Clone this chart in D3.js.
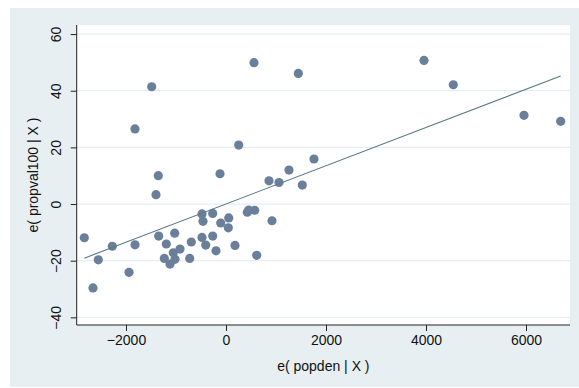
<!DOCTYPE html>
<html>
<head>
<meta charset="utf-8">
<script src="https://cdn.jsdelivr.net/npm/d3@7"></script>
<style>
  body { margin: 0; background: #fff; }
  text { font-family: "Liberation Sans", Arial, sans-serif; fill: #111; }
</style>
</head>
<body>
<div id="chart"></div>
<script>
// residuals: e( popden | X ) and e( propval100 | X )
var popden = [-2834, -2554, -2660, -2274, -1820, -1940, -1354, -1400, -1346, -1194,
              -1026, -1234, -1120, -1020, -1054, -920, -694, -726, -480, -460,
              -480, -406, -266, -266, -200, -120, -106, 54, 46, 180,
              426, 454, 574, 614, -1486, -1820, 560, 1446, 254, 1760,
              1260, 860, 1060, 1526, 920, 3960, 4546, 5960, 6694];
var propval = [-11.9, -19.7, -29.6, -14.9, -14.4, -24.1, 10.0, 3.3, -11.3, -14.1,
               -10.3, -19.2, -21.2, -19.5, -17.2, -15.9, -13.4, -19.2, -3.5, -6.1,
               -11.8, -14.5, -3.3, -11.3, -16.5, 10.7, -6.7, -4.9, -8.4, -14.6,
               -2.9, -2.1, -2.2, -18.1, 41.4, 26.5, 49.9, 46.1, 20.8, 15.9,
               12.0, 8.2, 7.6, 6.7, -5.9, 50.7, 42.1, 31.3, 29.2];
// fitted line endpoints
var fitX = [-2834, 6694];
var fitY = [-19.1, 45.2];

var xTicks = [-2000, 0, 2000, 4000, 6000];
var yTicks = [-40, -20, 0, 20, 40, 60];

var width = 579, height = 388;
var plotL = 76.7, plotR = 570, plotT = 25, plotB = 325;

var svg = d3.select("#chart").append("svg")
    .attr("width", width).attr("height", height);

// outer graph region
svg.append("rect")
    .attr("x", 10).attr("y", 8)
    .attr("width", width - 10).attr("height", 379)
    .attr("fill", "#e8eff2");

svg.append("rect")
    .attr("x", plotL).attr("y", plotT)
    .attr("width", plotR - plotL).attr("height", plotB - plotT)
    .attr("fill", "#fff");

var x = d3.scaleLinear().domain([-2986, 6880]).range([plotL, plotR]);
var y = d3.scaleLinear().domain([-42.7, 63.2]).range([plotB, plotT]);

// grid
svg.append("g")
    .selectAll("line")
    .data(yTicks)
    .enter()
    .append("line")
    .attr("x1", plotL).attr("x2", plotR)
    .attr("y1", d => y(d)).attr("y2", d => y(d))
    .attr("stroke", "#e6eef2")
    .attr("stroke-width", 1.2);

// y axis
var yAxis = svg.append("g")
    .attr("transform", "translate(" + plotL + ",0)")
    .call(d3.axisLeft(y).tickValues(yTicks).tickFormat(d3.format("d")).tickSize(6));
yAxis.selectAll(".tick text")
    .attr("transform", "rotate(-90)")
    .attr("x", 0)
    .attr("y", -21)
    .attr("dy", "0.35em")
    .style("text-anchor", "middle")
    .style("font-size", "14px")
    .attr("fill", "#111");

// x axis
var xAxis = svg.append("g")
    .attr("transform", "translate(0," + plotB + ")")
    .call(d3.axisBottom(x).tickValues(xTicks).tickFormat(d3.format("d")).tickSize(6).tickPadding(4));
xAxis.selectAll("text")
    .style("font-size", "14px")
    .attr("fill", "#111");

svg.selectAll(".domain").attr("stroke", "#222");
svg.selectAll(".tick line").attr("stroke", "#222");
// only left and bottom lines, no outer ticks
yAxis.select(".domain").attr("d", "M0," + plotT + "V" + plotB);
xAxis.select(".domain").attr("d", "M" + plotL + ",0H" + plotR);

// points
svg.append("g")
    .selectAll("circle")
    .data(popden)
    .enter()
    .append("circle")
    .attr("cx", d => x(d))
    .attr("cy", (d, i) => y(propval[i]))
    .attr("r", 4.6)
    .attr("fill", "#6a7f9a");

// fit line
svg.append("path")
    .datum(fitX)
    .attr("fill", "none")
    .attr("stroke", "#5b7a85")
    .attr("stroke-width", 1.1)
    .attr("d", d3.line().x(d => x(d)).y((d, i) => y(fitY[i])));

// axis titles
svg.append("text")
    .attr("x", (plotL + plotR) / 2).attr("y", 371)
    .attr("text-anchor", "middle")
    .style("font-size", "14px")
    .text("e( popden | X )");

svg.append("text")
    .attr("transform", "translate(38," + ((plotT + plotB) / 2) + ") rotate(-90)")
    .attr("text-anchor", "middle")
    .style("font-size", "14px")
    .text("e( propval100 | X )");
</script>
</body>
</html>
